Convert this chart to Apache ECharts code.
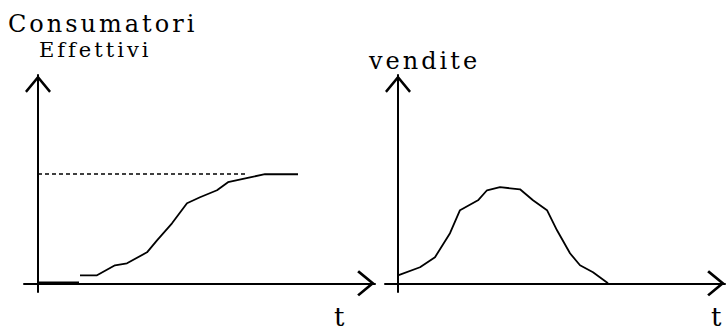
<!DOCTYPE html>
<html>
<head>
<meta charset="utf-8">
<script src="https://cdn.jsdelivr.net/npm/echarts@6/dist/echarts.min.js"></script>
<style>
    html, body { margin: 0; padding: 0; background: #fff; }
    #chart { width: 728px; height: 333px; }
    /* piccolo spazio tra le lettere, come nel disegno originale */
    #chart svg text { letter-spacing: 3px; }
</style>
</head>
<body>
<div id="chart"></div>
<script>
// consumatori effettivi: tratto iniziale sull'asse e curva a S
const startT = [0, 4.1];
const startV = [0, 0];
const consT = [4.2, 5.9, 7.7, 8.9, 10.9, 11.9, 13.4, 14.9, 16.2, 17.9, 19.0, 21.2, 22.7, 26.0];
const consV = [7.3, 7.3, 16.5, 18.3, 28.4, 39.4, 55, 73.4, 78.9, 85.3, 92.7, 97.2, 100, 100];
const saturation = 100;
const saturationEnd = 21;

// vendite: curva a campana
const salesT = [0, 2.2, 3.7, 5.2, 6.2, 8.0, 8.9, 10.2, 12.2, 13.5, 14.9, 15.9, 17.2, 18.2, 19.5, 21.0];
const salesV = [7.3, 14.7, 23.9, 45.9, 67.0, 76.1, 85.3, 88.1, 86.2, 76.1, 67.0, 48.6, 27.5, 16.5, 10.1, 0];

const zip = (xs, ys) => xs.map((x, i) => [x, ys[i]]);

// freccia aperta (a "V") per le estremita' degli assi
const arrow = 'path://M14,0 L28,17 L26,19 L14,4.5 L2,19 L0,17 Z';

const font = 'DejaVu Serif';
function label(text, left, top, size) {
    return {
        text: text, left: left, top: top, padding: 0,
        textStyle: { fontFamily: font, fontWeight: 'normal', fontSize: size, color: '#000' }
    };
}

function axis(extra) {
    return Object.assign({
        type: 'value',
        axisLine: {
            show: true, onZero: true,
            symbol: ['none', arrow],
            symbolSize: [26, 19],
            symbolOffset: [0, -9],
            lineStyle: { color: '#000', width: 2 }
        },
        axisTick: { show: false },
        axisLabel: { show: false },
        splitLine: { show: false }
    }, extra);
}

const curve = { color: '#000', width: 1.8 };

let myChart = echarts.init(document.getElementById('chart'), null, { renderer: 'svg' });
myChart.setOption({
    animation: false,
    backgroundColor: '#fff',
    title: [
        label('Consumatori', 8, 12, 24),
        label('Effettivi', 39, 39, 21),
        label('vendite', 369, 49, 24),
        label('t', 334, 304, 26),
        label('t', 711, 304, 26)
    ],
    grid: [
        { left: 24, width: 351, top: 75, height: 217 },
        { left: 385, width: 340, top: 75, height: 217 }
    ],
    xAxis: [
        axis({ gridIndex: 0, min: -1.4, max: 33.7 }),
        axis({ gridIndex: 1, min: -1.3, max: 32.7 })
    ],
    yAxis: [
        axis({ gridIndex: 0, min: -8, max: 191 }),
        axis({ gridIndex: 1, min: -8, max: 191 })
    ],
    series: [
        {
            type: 'line', xAxisIndex: 0, yAxisIndex: 0,
            data: zip(startT, startV),
            symbol: 'none', silent: true,
            lineStyle: { color: '#000', width: 3.5 }
        },
        {
            type: 'line', xAxisIndex: 0, yAxisIndex: 0,
            data: zip(consT, consV),
            symbol: 'none', silent: true,
            lineStyle: curve,
            markLine: {
                silent: true, symbol: 'none',
                label: { show: false },
                lineStyle: { color: '#000', width: 1.5, type: [4, 3] },
                data: [[{ coord: [0, saturation] }, { coord: [saturationEnd, saturation] }]]
            }
        },
        {
            type: 'line', xAxisIndex: 1, yAxisIndex: 1,
            data: zip(salesT, salesV),
            symbol: 'none', silent: true,
            lineStyle: curve
        }
    ]
});
</script>
</body>
</html>
